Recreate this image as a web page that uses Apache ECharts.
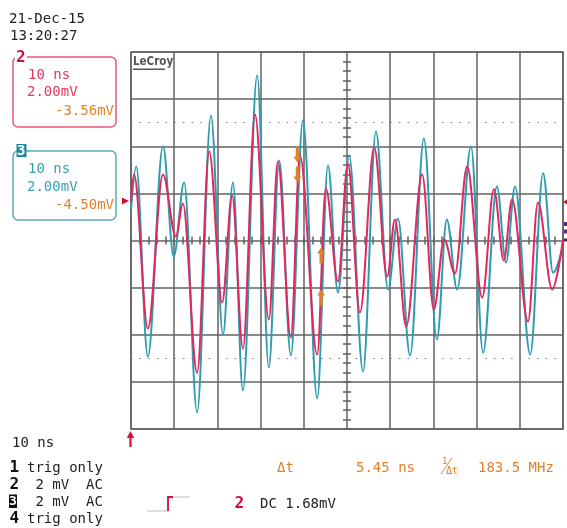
<!DOCTYPE html>
<html>
<head>
<meta charset="utf-8">
<script src="https://cdn.jsdelivr.net/npm/echarts@6/dist/echarts.min.js"></script>
<style>
html, body { margin: 0; padding: 0; background: #fff; }
#scope { width: 567px; height: 528px; }
</style>
</head>
<body>
<div id="scope"></div>
<script>
// time in ns from the left edge of the screen, value in mV from screen centre
var ch2Times = [0, 0.7, 3.9, 7.4, 10.4, 12.0, 15.3, 18.1, 21.1, 23.4, 25.9, 28.7, 31.9, 34.0, 37.0, 39.1, 43.1, 45.1, 47.9, 50.2, 53.0, 56.3, 59.3, 61.1, 63.7, 67.4, 70.1, 72.5, 75.0, 77.8, 81.3, 84.0, 86.3, 88.2, 91.9, 94.2, 97.5, 100];
var ch2Values = [1.66, 2.80, -3.74, 2.80, 0.17, 1.57, -5.61, 3.78, -2.63, 1.91, -4.59, 5.35, -3.35, 3.35, -4.12, 3.61, -4.84, 2.21, -1.74, 3.27, -3.06, 3.95, -1.53, 0.89, -3.65, 2.80, -2.93, 0.04, -1.40, 3.14, -2.42, 2.17, -0.85, 1.74, -3.44, 1.61, -2.08, 0.04];
var ch3Times = [0, 1.2, 3.9, 7.4, 9.9, 12.3, 15.3, 18.5, 21.3, 23.6, 25.9, 29.2, 31.9, 34.3, 37.0, 39.8, 43.1, 45.6, 47.9, 50.5, 53.7, 56.7, 59.5, 61.8, 64.6, 67.8, 70.8, 73.1, 75.5, 78.7, 81.5, 84.7, 86.8, 88.9, 92.4, 95.4, 97.7, 100];
var ch3Values = [1.32, 3.14, -4.93, 4.00, -0.68, 2.46, -7.30, 5.31, -3.99, 2.46, -6.37, 7.01, -5.39, 3.40, -4.88, 5.10, -6.71, 3.18, -2.21, 3.61, -5.56, 4.63, -2.08, 0.93, -4.88, 4.33, -4.20, 0.89, -2.08, 3.99, -4.76, 2.29, -0.93, 2.29, -4.84, 2.85, -1.36, -0.25];

// cursors: first one (down arrows), second one (up arrows)
var cursorTimes = [38.5, 44.0];
var cursorLevels = [[3.31, 2.46], [-0.30, -2.08]];
var dottedLevels = [5, -5];

var gridColor = '#626262';
var mono = '"DejaVu Sans Mono", monospace';
var red = '#e2275c', teal = '#2e9cb0', orange = '#e0822c';

function zip(a, b) {
	return a.map(function (t, i) { return [t, b[i]]; });
}

function txt(s, x, y, color, font, align) {
	return {
		type: 'text', x: x, y: y, silent: true,
		style: { text: s, fill: color, font: font || ('14px ' + mono), textAlign: align || 'left', textVerticalAlign: 'middle' }
	};
}

function tickAxis(dim, inside) {
	var ax = {
		type: 'value', gridIndex: 0,
		axisLine: { show: false, onZero: false },
		axisTick: { show: true, inside: inside, length: 4, lineStyle: { color: gridColor, width: 1.5 } },
		axisLabel: { show: false },
		splitLine: { show: false }
	};
	if (dim === 'x') {
		ax.min = 0; ax.max = 100; ax.interval = 2;
		ax.position = 'bottom'; ax.offset = -188.5;
	} else {
		ax.min = -8; ax.max = 8; ax.interval = 0.4;
		ax.position = 'left'; ax.offset = -216;
	}
	return ax;
}

var arrowPath = 'path://M4,0 L8,6 L5.6,6 L5.6,16 L2.4,16 L2.4,6 L0,6 Z';
var cursorMarks = [];
cursorTimes.forEach(function (t, i) {
	cursorLevels[i].forEach(function (v) {
		cursorMarks.push({
			coord: [t, v],
			symbolRotate: i === 0 ? 180 : 0,
			symbolOffset: [0, i === 0 ? -8 : 8]
		});
	});
});

var chart = echarts.init(document.getElementById('scope'));
chart.setOption({
	animation: false,
	backgroundColor: '#fff',
	grid: { left: 131, top: 52, width: 432, height: 377, show: true, borderColor: gridColor, borderWidth: 1.5, backgroundColor: '#fff' },
	xAxis: [
		{
			type: 'value', min: 0, max: 100, interval: 10,
			axisLine: { show: false, onZero: false }, axisTick: { show: false }, axisLabel: { show: false },
			splitLine: { show: true, lineStyle: { color: gridColor, width: 1.5 } }
		},
		tickAxis('x', true),
		tickAxis('x', false)
	],
	yAxis: [
		{
			type: 'value', min: -8, max: 8, interval: 2,
			axisLine: { show: false, onZero: false }, axisTick: { show: false }, axisLabel: { show: false },
			splitLine: { show: true, lineStyle: { color: gridColor, width: 1.5 } }
		},
		tickAxis('y', true),
		tickAxis('y', false)
	],
	series: [
		{
			name: 'C3', type: 'line', data: zip(ch3Times, ch3Values),
			showSymbol: false, smooth: 0.35, smoothMonotone: 'x', silent: true,
			lineStyle: { color: teal, width: 2 },
			markLine: {
				silent: true, symbol: 'none', label: { show: false },
				lineStyle: { color: '#7a7a7a', width: 1, type: [1.5, 7.14] },
				data: dottedLevels.map(function (v) { return { yAxis: v }; })
			}
		},
		{
			name: 'C2', type: 'line', data: zip(ch2Times, ch2Values),
			showSymbol: false, smooth: 0.35, smoothMonotone: 'x', silent: true,
			lineStyle: { color: red, width: 2 },
			markPoint: {
				silent: true, symbol: arrowPath, symbolSize: [8, 16],
				label: { show: false }, itemStyle: { color: orange },
				data: cursorMarks
			}
		}
	],
	graphic: [
		txt('21-Dec-15', 9, 19.5, '#222'),
		txt('13:20:27', 10, 36.5, '#222'),

		// channel 2 box
		{ type: 'rect', silent: true, shape: { x: 13, y: 57, width: 103, height: 70, r: 5 }, style: { fill: 'none', stroke: '#e8587a', lineWidth: 1.5 } },
		{ type: 'rect', silent: true, shape: { x: 15, y: 50, width: 12, height: 15 }, style: { fill: '#fff' } },
		txt('2', 16, 58, '#d0103a', 'bold 16px ' + mono),
		txt('10 ns', 28, 75.5, '#e8355f'),
		txt('2.00mV', 27, 92.5, '#e8355f'),
		txt('-3.56mV', 114, 111.5, orange, null, 'right'),

		// channel 3 box
		{ type: 'rect', silent: true, shape: { x: 13, y: 151, width: 103, height: 69, r: 5 }, style: { fill: 'none', stroke: '#5aaabb', lineWidth: 1.5 } },
		{ type: 'rect', silent: true, shape: { x: 16.5, y: 144, width: 10, height: 13 }, style: { fill: '#1f8a9c' } },
		txt('3', 17, 151, '#fff', 'bold 14px ' + mono),
		txt('10 ns', 28, 169.5, '#3a9fb0'),
		txt('2.00mV', 27, 187, '#3a9fb0'),
		txt('-4.50mV', 114, 205.5, orange, null, 'right'),

		// trigger level marker and trigger position marker
		{ type: 'polygon', silent: true, shape: { points: [[122, 197.5], [129, 201], [122, 204.5]] }, style: { fill: '#d0103a' } },
		{ type: 'polygon', silent: true, shape: { points: [[126.8, 438], [130.5, 431], [134.2, 438], [131.6, 438], [131.6, 447], [129.4, 447], [129.4, 438]] }, style: { fill: '#d0103a' } },

		// right edge markers
		{ type: 'polygon', silent: true, shape: { points: [[563, 202], [567, 199.5], [567, 204.5]] }, style: { fill: '#d0103a' } },
		{ type: 'rect', silent: true, shape: { x: 564, y: 222, width: 3, height: 4 }, style: { fill: '#5a2a88' } },
		{ type: 'rect', silent: true, shape: { x: 564, y: 229.5, width: 3, height: 4 }, style: { fill: '#5a2a88' } },
		{ type: 'rect', silent: true, shape: { x: 564, y: 238.5, width: 3, height: 3 }, style: { fill: '#3a2a60' } },

		// LeCroy logo
		txt('LeCroy', 133, 62, '#555', 'bold 11.5px "DejaVu Sans Condensed", sans-serif'),
		{ type: 'rect', silent: true, shape: { x: 133, y: 68.5, width: 32, height: 1.5 }, style: { fill: '#555' } },

		// bottom status area
		txt('10 ns', 12, 443.5, '#222'),
		txt('1', 9.5, 468, '#111', 'bold 16px ' + mono),
		txt('trig only', 27, 468, '#222'),
		txt('2', 9.5, 485, '#111', 'bold 16px ' + mono),
		txt(' 2 mV  AC', 27, 485, '#222'),
		{ type: 'rect', silent: true, shape: { x: 9, y: 494.5, width: 8, height: 13.5 }, style: { fill: '#111' } },
		txt('3', 9, 501.5, '#fff', 'bold 13px ' + mono),
		txt(' 2 mV  AC', 27, 502, '#222'),
		txt('4', 9.5, 519, '#111', 'bold 16px ' + mono),
		txt('trig only', 27, 519, '#222'),

		txt('\u0394t', 277, 468, orange),
		txt('5.45 ns', 356, 468, orange),
		txt('1', 442, 462, orange, '9px ' + mono),
		{ type: 'line', silent: true, shape: { x1: 441, y1: 474, x2: 452, y2: 458 }, style: { stroke: orange, lineWidth: 1 } },
		txt('\u0394t', 446, 471, orange, '10px ' + mono),
		txt('183.5 MHz', 478, 468, orange),

		{ type: 'polyline', silent: true, shape: { points: [[147, 511], [168, 511]] }, style: { stroke: '#c8c8c8', lineWidth: 1.2 } },
		{ type: 'polyline', silent: true, shape: { points: [[168, 511], [168, 497], [173, 497]] }, style: { stroke: '#d0103a', lineWidth: 1.8 } },
		{ type: 'polyline', silent: true, shape: { points: [[173, 497], [190, 497]] }, style: { stroke: '#c8c8c8', lineWidth: 1.2 } },
		txt('2', 234.5, 504, '#d0103a', 'bold 16px ' + mono),
		txt('DC 1.68mV', 260, 504.5, '#222')
	]
});
</script>
</body>
</html>
